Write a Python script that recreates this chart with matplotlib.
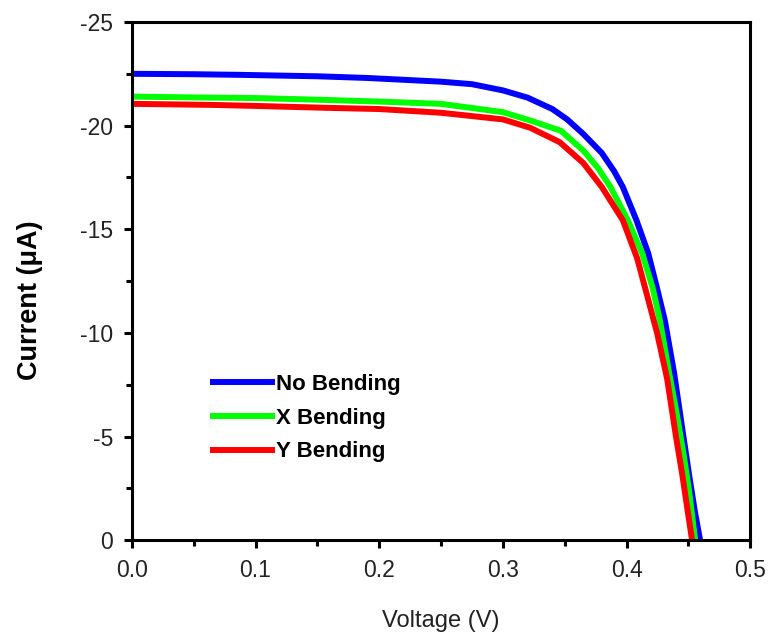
import numpy as np
import matplotlib
matplotlib.use("Agg")
import matplotlib.pyplot as plt
from matplotlib.ticker import MultipleLocator, FormatStrFormatter

plt.rcParams['font.family'] = ['Liberation Sans', 'DejaVu Sans']
plt.rcParams['axes.unicode_minus'] = False

# J-V curves (voltage in V, current in uA)
v_no = [0.0, 0.05, 0.087, 0.15, 0.19, 0.25, 0.275, 0.30, 0.32, 0.34, 0.352, 0.365,
        0.38, 0.39, 0.397, 0.408, 0.4175, 0.4245, 0.431, 0.4385, 0.4417, 0.446,
        0.451, 0.4555, 0.4595]
i_no = [-22.5, -22.48, -22.45, -22.38, -22.3, -22.12, -22.0, -21.7, -21.35, -20.8, -20.3, -19.6,
        -18.68, -17.8, -17.04, -15.44, -13.85, -12.2, -10.6, -8.06, -6.76, -5.0,
        -3.0, -1.3, 0.0]

v_x = [0.0, 0.05, 0.10, 0.15, 0.20, 0.25, 0.30, 0.322, 0.347, 0.365, 0.377, 0.387,
       0.401, 0.4126, 0.421, 0.427, 0.4345, 0.44, 0.446, 0.451, 0.4555]
i_x = [-21.4, -21.36, -21.33, -21.25, -21.16, -21.05, -20.65, -20.25, -19.75, -18.8, -17.95, -17.04,
       -15.44, -13.85, -12.2, -10.6, -8.06, -6.3, -4.2, -2.2, 0.0]

v_y = [0.0, 0.065, 0.10, 0.163, 0.20, 0.25, 0.30, 0.322, 0.346, 0.365, 0.38,
       0.397, 0.4086, 0.4167, 0.4247, 0.4328, 0.44, 0.445, 0.449, 0.453]
i_y = [-21.05, -21.0, -20.95, -20.85, -20.8, -20.62, -20.3, -19.9, -19.2, -18.2, -17.04,
       -15.44, -13.6, -11.8, -10.0, -7.8, -5.0, -3.2, -1.6, 0.0]

fig = plt.figure(figsize=(7.71, 6.37), dpi=100)
ax = fig.add_axes([0.171, 0.152, 0.802, 0.8135])

ax.plot(v_no, i_no, color="#0000ff", lw=4.3, label="No Bending")
ax.plot(v_x, i_x, color="#00ff00", lw=4.3, label="X Bending")
ax.plot(v_y, i_y, color="#ff0000", lw=4.3, label="Y Bending")

ax.set_xlim(0, 0.5)
ax.set_ylim(0, -25)
ax.xaxis.set_major_locator(MultipleLocator(0.1))
ax.xaxis.set_minor_locator(MultipleLocator(0.05))
ax.yaxis.set_major_locator(MultipleLocator(5))
ax.yaxis.set_minor_locator(MultipleLocator(2.5))
ax.xaxis.set_major_formatter(FormatStrFormatter('%.1f'))

for s in ax.spines.values():
    s.set_linewidth(2.2)
ax.tick_params(which='major', direction='out', length=6, width=2.2, labelsize=16.5,
               labelcolor='#222222', pad=7.5)
ax.tick_params(which='minor', direction='out', length=4, width=2.2)

ax.set_xlabel("Voltage (V)", fontsize=17, color='#222222')
ax.set_ylabel("Current (μA)", fontsize=19.5, fontweight='bold')
ax.xaxis.set_label_coords(0.5, -0.135)
ax.yaxis.set_label_coords(-0.144, 0.463)

ax.legend(loc='upper left', bbox_to_anchor=(0.131, 0.3205), frameon=False,
          borderpad=0, borderaxespad=0,
          handlelength=2.65, handletextpad=0.2, labelspacing=0.57,
          prop={'size': 16, 'weight': 'bold'})

fig.savefig("out.png", dpi=100)
